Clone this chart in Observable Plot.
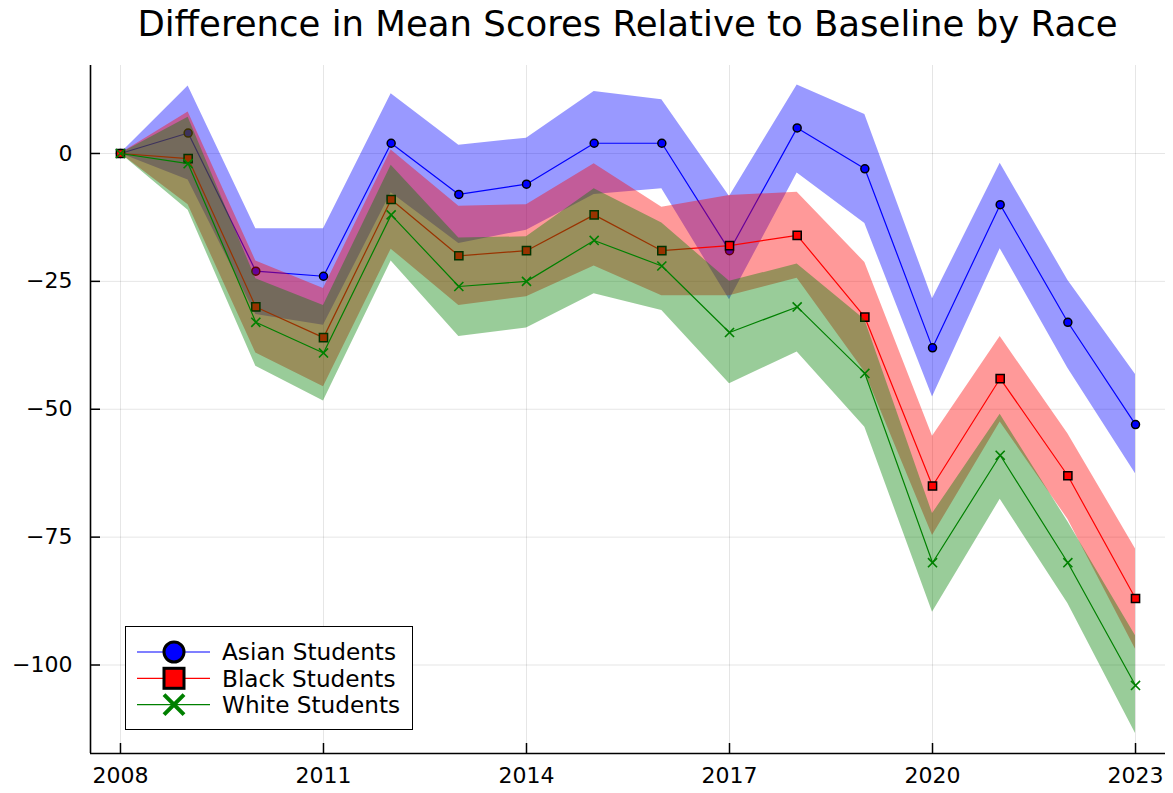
<!DOCTYPE html>
<html><head><meta charset="utf-8">
<script src="https://cdn.jsdelivr.net/npm/d3@7"></script>
<script src="https://cdn.jsdelivr.net/npm/@observablehq/plot@0.6"></script>
<style>
body{margin:0;background:#fff;font-family:"DejaVu Sans",sans-serif;}
#wrap{position:relative;width:1173px;height:793px;overflow:hidden;}
#title{position:absolute;left:90px;width:1075px;top:6px;text-align:center;font-family:"DejaVu Sans";font-size:35.5px;line-height:35px;color:#000;white-space:nowrap;}
#legend{position:absolute;left:125px;top:626px;width:286px;height:102px;border:1.5px solid #000;background:#fff;box-sizing:content-box;}
</style></head><body>
<div id="wrap">
<div id="chart"></div>
<div id="title">Difference in Mean Scores Relative to Baseline by Race</div>
<div id="legend"></div>
</div>
<script>
const years = [2008,2009,2010,2011,2012,2013,2014,2015,2016,2017,2018,2019,2020,2021,2022,2023];

const asianMean  = [0, 4, -23, -24, 2, -8, -6, 2, 2, -19, 5, -3, -38, -10, -33, -53];
const asianUpper = [0, 13.2, -14.7, -14.7, 11.7, 1.6, 3.0, 12.1, 10.5, -8.4, 13.4, 7.6, -28.4, -1.9, -24.8, -43.2];
const asianLower = [0, -5.2, -31.5, -33.6, -7.7, -17.6, -15, -8, -6.9, -28.6, -3.8, -13.7, -47.6, -18.6, -42, -62.6];

const blackMean  = [0, -1, -30, -36, -9, -20, -19, -12, -19, -18, -16, -32, -65, -44, -63, -87];
const blackUpper = [0, 8.1, -21, -26.4, 0.7, -10.3, -10, -2, -10.5, -8.2, -7.6, -21.3, -55.3, -35.8, -54.8, -77.3];
const blackLower = [0, -10, -39, -45.6, -18.7, -29.7, -28, -22, -27.8, -27.8, -24.4, -42.7, -74.7, -52.5, -71.5, -96.9];

const whiteMean  = [0, -2, -33, -39, -12, -26, -25, -17, -22, -35, -30, -43, -80, -59, -80, -104];
const whiteUpper = [0, 7.1, -24.5, -29.7, -2.3, -16.5, -16.3, -6.9, -13.6, -25, -21.6, -32.5, -70.4, -51, -72, -94.3];
const whiteLower = [0, -11.1, -41.6, -48.4, -21, -35.8, -34.1, -27.4, -30.7, -45, -38.8, -53.5, -89.7, -67.6, -88, -113.4];

const seriesNames = ["Asian Students", "Black Students", "White Students"];
const seriesColors = ["#0000ff", "#ff0000", "#008000"];

const xTicks = [2008, 2011, 2014, 2017, 2020, 2023];
const yTicks = [0, -25, -50, -75, -100];
const xDomain = [2007.557, 2023.443];
const yDomain = [-117.3, 17.2];

const W = 1173, H = 793, mT = 65, mB = 40, mL = 90, mR = 8;
const plotW = W - mL - mR, plotH = H - mT - mB;

function rows(mean, lo, hi) {
  return years.map((y, i) => ({year: y, value: mean[i], lo: lo[i], hi: hi[i]}));
}
const asian = rows(asianMean, asianLower, asianUpper);
const black = rows(blackMean, blackLower, blackUpper);
const white = rows(whiteMean, whiteLower, whiteUpper);

const fmtY = d => d < 0 ? "\u2212" + Math.abs(d) : String(d);

const chart = Plot.plot({
  width: W, height: H, marginTop: mT, marginBottom: mB, marginLeft: mL, marginRight: mR,
  style: {fontFamily: "DejaVu Sans", fontSize: "22px", background: "white", color: "black"},
  x: {domain: xDomain},
  y: {domain: yDomain},
  marks: [
    Plot.gridX(xTicks, {stroke: "#000", strokeOpacity: 0.1, strokeWidth: 1}),
    Plot.gridY(yTicks, {stroke: "#000", strokeOpacity: 0.1, strokeWidth: 1}),
    // Asian
    Plot.areaY(asian, {x: "year", y1: "lo", y2: "hi", fill: seriesColors[0], fillOpacity: 0.4}),
    Plot.line(asian, {x: "year", y: "value", stroke: seriesColors[0], strokeWidth: 1.2}),
    Plot.dot(asian, {x: "year", y: "value", r: 4, fill: seriesColors[0], stroke: "#000", strokeWidth: 1.5, symbol: "circle"}),
    // Black
    Plot.areaY(black, {x: "year", y1: "lo", y2: "hi", fill: seriesColors[1], fillOpacity: 0.4}),
    Plot.line(black, {x: "year", y: "value", stroke: seriesColors[1], strokeWidth: 1.2}),
    Plot.dot(black, {x: "year", y: "value", r: 4.6, fill: seriesColors[1], stroke: "#000", strokeWidth: 1.5, symbol: "square"}),
    // White
    Plot.areaY(white, {x: "year", y1: "lo", y2: "hi", fill: seriesColors[2], fillOpacity: 0.4}),
    Plot.line(white, {x: "year", y: "value", stroke: seriesColors[2], strokeWidth: 1.2}),
    Plot.dot(white, {x: "year", y: "value", r: 4.2, stroke: seriesColors[2], strokeWidth: 1.6, symbol: "times"}),
    // axes
    Plot.axisX(xTicks, {tickSize: 0, tickPadding: 14, label: null, tickFormat: d => String(d), fontSize: 22}),
    Plot.axisY(yTicks, {tickSize: 0, tickPadding: 18, label: null, tickFormat: fmtY, fontSize: 22}),
    Plot.tickX(xTicks, {x: d => d, stroke: "#000", strokeWidth: 1.5, insetTop: plotH - 10}),
    Plot.tickY(yTicks, {y: d => d, stroke: "#000", strokeWidth: 1.5, insetRight: plotW - 10}),
    Plot.ruleX([xDomain[0]], {stroke: "#000", strokeWidth: 1.6}),
    Plot.ruleY([yDomain[0]], {stroke: "#000", strokeWidth: 1.6})
  ]
});
document.getElementById("chart").appendChild(chart);

// legend (drawn as a small SVG overlay)
const legend = document.getElementById("legend");
const ns = "http://www.w3.org/2000/svg";
const symbolsLegend = ["circle", "square", "times"];
const lsvg = document.createElementNS(ns, "svg");
lsvg.setAttribute("width", 286); lsvg.setAttribute("height", 102);
lsvg.style.display = "block";
seriesNames.forEach((name, i) => {
  const cy = 25 + i * 26.3;
  const ln = document.createElementNS(ns, "line");
  ln.setAttribute("x1", 11); ln.setAttribute("x2", 84); ln.setAttribute("y1", cy); ln.setAttribute("y2", cy);
  ln.setAttribute("stroke", seriesColors[i]); ln.setAttribute("stroke-width", 1.2);
  lsvg.appendChild(ln);
  const cx = 48;
  let m;
  if (symbolsLegend[i] === "circle") {
    m = document.createElementNS(ns, "circle");
    m.setAttribute("cx", cx); m.setAttribute("cy", cy); m.setAttribute("r", 10);
    m.setAttribute("fill", seriesColors[i]); m.setAttribute("stroke", "#000"); m.setAttribute("stroke-width", 3);
  } else if (symbolsLegend[i] === "square") {
    m = document.createElementNS(ns, "rect");
    m.setAttribute("x", cx - 10); m.setAttribute("y", cy - 10); m.setAttribute("width", 20); m.setAttribute("height", 20);
    m.setAttribute("fill", seriesColors[i]); m.setAttribute("stroke", "#000"); m.setAttribute("stroke-width", 3);
  } else {
    m = document.createElementNS(ns, "path");
    m.setAttribute("d", `M${cx-10},${cy-10}L${cx+10},${cy+10}M${cx-10},${cy+10}L${cx+10},${cy-10}`);
    m.setAttribute("stroke", seriesColors[i]); m.setAttribute("stroke-width", 4); m.setAttribute("fill", "none");
  }
  lsvg.appendChild(m);
  const t = document.createElementNS(ns, "text");
  t.setAttribute("x", 96); t.setAttribute("y", cy);
  t.setAttribute("dy", "0.36em");
  t.setAttribute("font-family", "DejaVu Sans");
  t.setAttribute("font-size", 23.2);
  t.setAttribute("fill", "#000");
  t.textContent = name;
  lsvg.appendChild(t);
});
legend.appendChild(lsvg);
</script>
</body></html>
